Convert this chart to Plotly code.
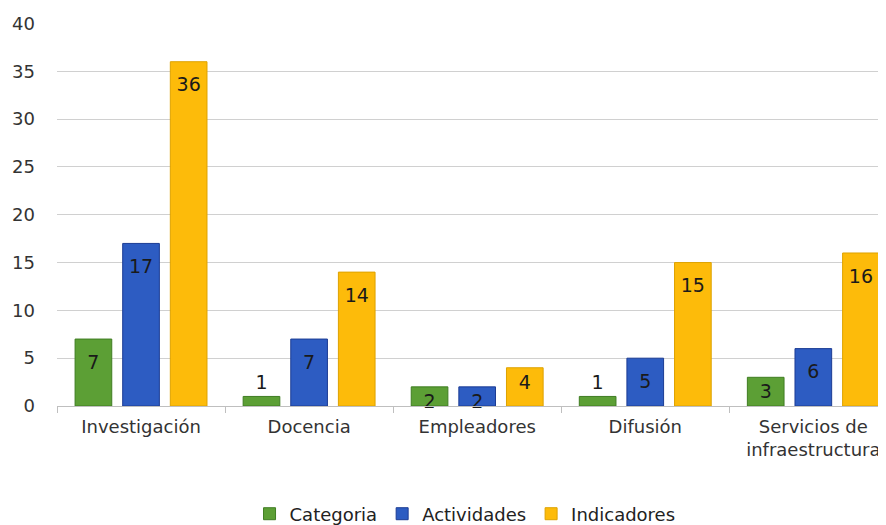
import plotly.graph_objects as go

categories = ["Investigación", "Docencia", "Empleadores", "Difusión", "Servicios de<br>infraestructura"]
categoria = [7, 1, 2, 1, 3]
actividades = [17, 7, 2, 5, 6]
indicadores = [36, 14, 4, 15, 16]
y_ticks = [0, 5, 10, 15, 20, 25, 30, 35, 40]

series = [
    ("Categoria", categoria, "#5c9f35", "#3f7d22"),
    ("Actividades", actividades, "#2d5cc2", "#1c3c94"),
    ("Indicadores", indicadores, "#fdbb0a", "#dea200"),
]

FONT = "DejaVu Sans"
NUM = "<span style='font-size:19px'>%{y}</span>"
SPACER = "\u00a0<br>"

fig = go.Figure()
for name, vals, col, lcol in series:
    pos = ["outside" if v <= 1 else "inside" for v in vals]
    tmpl = [SPACER + NUM if v >= 5 else NUM for v in vals]
    fig.add_trace(go.Bar(
        name=name, x=categories, y=vals,
        texttemplate=tmpl, textposition=pos, textangle=0,
        insidetextanchor="end", constraintext="none",
        textfont=dict(family=FONT, size=12, color="#1a1a1a"),
        marker=dict(color=col, line=dict(color=lcol, width=1)),
        cliponaxis=False,
    ))

# the page body has an 8px margin, so the figure starts 8px in from the top-left
fig.update_layout(
    width=886, height=525,
    margin=dict(l=49, r=0, t=15, b=127),
    paper_bgcolor="white", plot_bgcolor="white",
    barmode="group", bargap=0.15, bargroupgap=0.23,
    font=dict(family=FONT, size=16, color="#333333"),
    legend=dict(orientation="h", x=0.4875, xanchor="center", y=-0.282, yanchor="middle",
                font=dict(family=FONT, size=18, color="#222222"), itemwidth=30,
                traceorder="normal"),
    xaxis=dict(type="category", range=[-0.5, 4.48], showline=True, linecolor="#bfbfbf",
               linewidth=1, ticks="outside", tickson="boundaries", ticklen=6,
               tickcolor="#bfbfbf", showgrid=False, automargin=False,
               ticklabelstandoff=4,
               tickfont=dict(family=FONT, size=18, color="#333333")),
    yaxis=dict(range=[0, 40.05], tickvals=y_ticks, showgrid=True, gridcolor="#d0d0d0",
               gridwidth=1, zeroline=False, ticks="", ticklabelstandoff=21,
               automargin=False,
               tickfont=dict(family=FONT, size=18, color="#333333")),
)

fig.write_html("out.html")
